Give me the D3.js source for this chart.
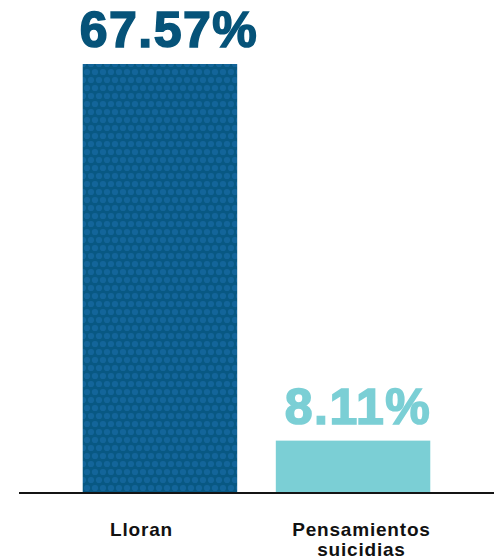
<!DOCTYPE html>
<html>
<head>
<meta charset="utf-8">
<script src="https://cdn.jsdelivr.net/npm/d3@7"></script>
<style>
  html, body { margin: 0; padding: 0; background: #fff; }
  svg { display: block; }
</style>
</head>
<body>
<div id="chart"></div>
<script>
(function () {
  const categories = ["Lloran", "Pensamientos suicidias"];
  const values = [67.57, 8.11];
  const valueLabels = ["67.57%", "8.11%"];
  const barColors = ["#085883", "#7bcfd5"];
  const labelColors = ["#065379", "#7bcfd5"];

  const width = 496;
  const height = 559;
  const baseY = 492;
  const topY = 64;

  const svg = d3
    .select("#chart")
    .append("svg")
    .attr("width", width)
    .attr("height", height);

  // dotted texture for the big bar: rows of soft dots, every other row shifted
  const defs = svg.append("defs");
  const blur = defs.append("filter").attr("id", "soft");
  blur.append("feGaussianBlur").attr("stdDeviation", 0.6);

  const pat = defs
    .append("pattern")
    .attr("id", "dots")
    .attr("patternUnits", "userSpaceOnUse")
    .attr("x", 83)
    .attr("y", 64)
    .attr("width", 8)
    .attr("height", 16);
  pat.append("rect").attr("width", 8).attr("height", 16).attr("fill", barColors[0]);
  [[0, 0], [8, 0], [4, 8], [0, 16], [8, 16]].forEach(function (p) {
    pat
      .append("circle")
      .attr("cx", p[0])
      .attr("cy", p[1])
      .attr("r", 3.1)
      .attr("fill", "#13659a");
  });

  const x = d3
    .scaleBand()
    .domain(categories)
    .range([19, 494])
    .paddingInner(0.2)
    .paddingOuter(0.33);

  // category labels sit on their own grid, a bit wider than the bars
  const xLabel = d3
    .scaleBand()
    .domain(categories)
    .range([14, 489])
    .paddingInner(0)
    .paddingOuter(0.08);

  const y = d3.scaleLinear().domain([0, d3.max(values)]).range([baseY, topY]);

  svg
    .selectAll(".bar")
    .data(categories)
    .enter()
    .append("rect")
    .attr("class", "bar")
    .attr("x", (d) => x(d))
    .attr("width", x.bandwidth())
    .attr("y", (d, i) => y(values[i]))
    .attr("height", (d, i) => y(0) - y(values[i]))
    .attr("fill", (d, i) => (i === 0 ? "url(#dots)" : barColors[i]));

  // baseline
  svg
    .append("line")
    .attr("x1", 19)
    .attr("x2", 494)
    .attr("y1", y(0) + 1)
    .attr("y2", y(0) + 1)
    .attr("stroke", "#141414")
    .attr("stroke-width", 2);

  // value labels
  svg
    .selectAll(".value")
    .data(categories)
    .enter()
    .append("text")
    .attr("class", "value")
    .attr("x", (d, i) => x(d) + x.bandwidth() / 2 + (i === 0 ? 9 : 5))
    .attr("y", (d, i) => y(values[i]) - 17)
    .attr("text-anchor", "middle")
    .attr("font-family", "Liberation Sans, Arial, sans-serif")
    .attr("font-weight", "bold")
    .attr("font-size", 50)
    .attr("letter-spacing", 1.5)
    .attr("fill", (d, i) => labelColors[i])
    .attr("stroke", (d, i) => labelColors[i])
    .attr("stroke-width", 1.6)
    .text((d, i) => valueLabels[i]);

  // category labels, wrapped on spaces for the long one
  const cat = svg
    .selectAll(".cat")
    .data(categories)
    .enter()
    .append("text")
    .attr("class", "cat")
    .attr("text-anchor", "middle")
    .attr("font-family", "Liberation Sans, Arial, sans-serif")
    .attr("font-weight", "bold")
    .attr("font-size", 19)
    .attr("letter-spacing", 0.8)
    .attr("fill", "#111");

  cat.each(function (d) {
    const words = d.split(" ");
    const cx = xLabel(d) + xLabel.bandwidth() / 2;
    d3.select(this)
      .selectAll("tspan")
      .data(words)
      .enter()
      .append("tspan")
      .attr("x", cx)
      .attr("y", (w, j) => 535.5 + j * 20)
      .text((w) => w);
  });
})();
</script>
</body>
</html>
